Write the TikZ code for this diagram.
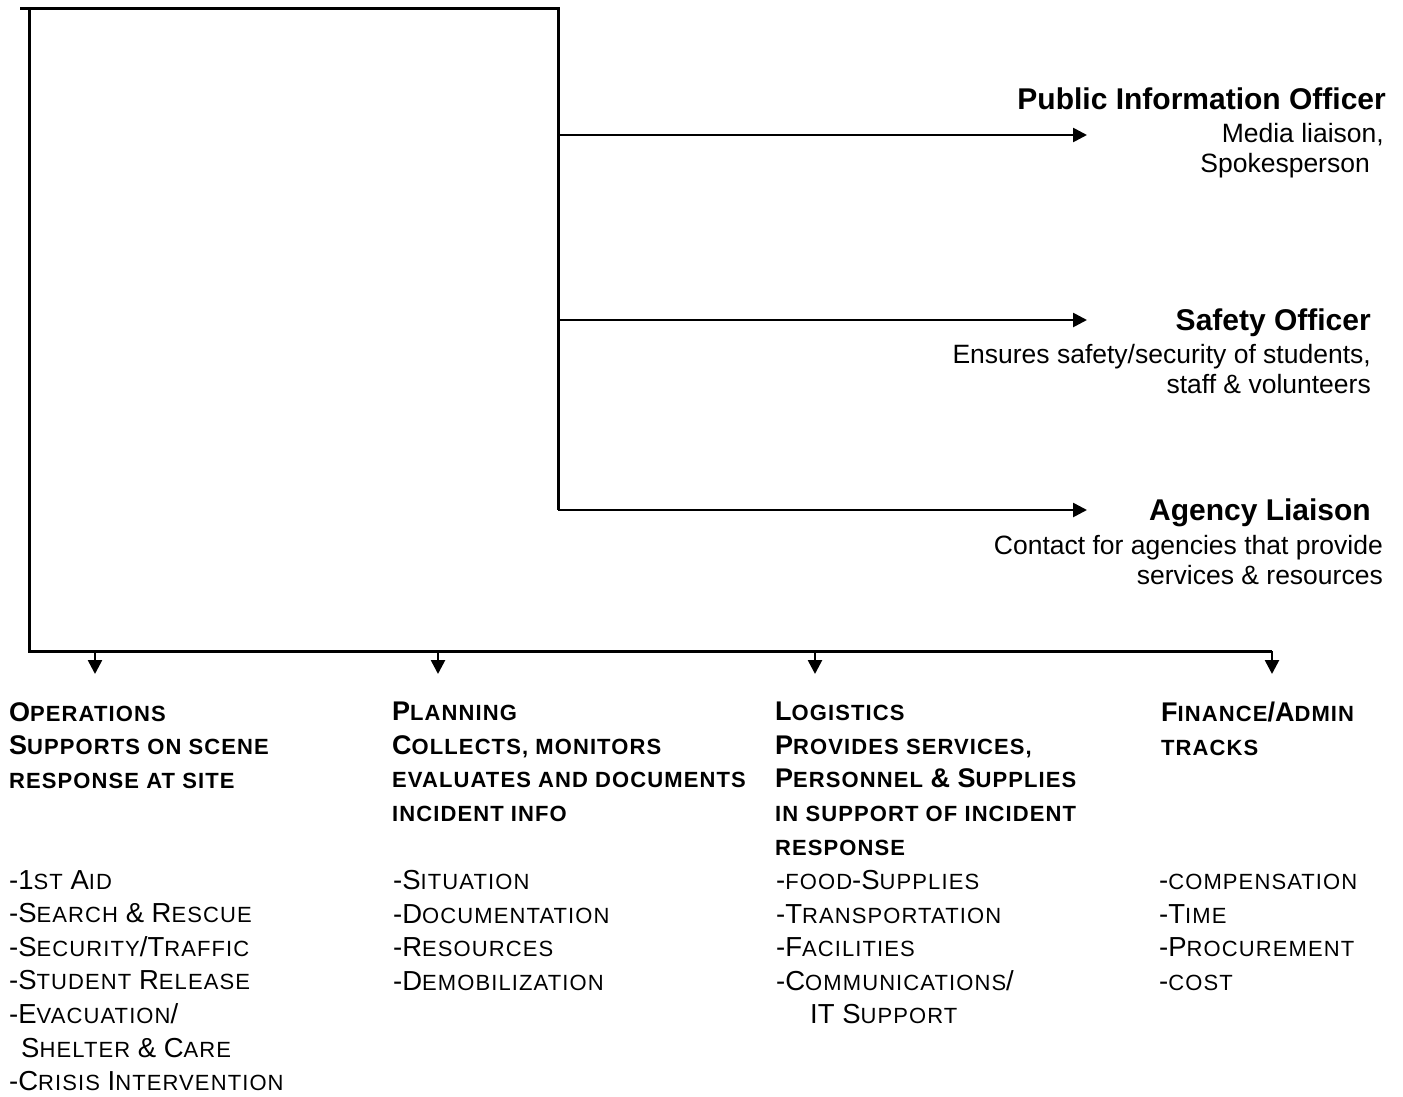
\documentclass[tikz,border=0pt]{standalone}
\usepackage{fontspec}
\setmainfont{Liberation Sans}
\usetikzlibrary{arrows.meta, positioning}

% faux small caps as in the source document
\newcommand{\sml}[1]{{\fontsize{22}{33.6}\selectfont\addfontfeature{LetterSpace=5}#1}}

\tikzset{
  head/.style={font=\fontsize{30}{32}\selectfont\bfseries, inner sep=0pt, align=right, anchor=north east},
  note/.style={font=\fontsize{26.5}{30}\selectfont, inner sep=0pt, align=right, anchor=north east},
  sect/.style={font=\fontsize{27}{33.6}\selectfont\bfseries, inner sep=0pt, align=left, anchor=north west},
  duty/.style={font=\fontsize{27.5}{33.6}\selectfont, inner sep=0pt, align=left, anchor=north west},
  frame/.style={line width=3pt},
  link/.style={line width=2.6pt, ->},
}

\begin{document}
\begin{tikzpicture}[x=1pt, y=-1pt, >={Triangle[length=14pt, width=14pt]}]
    \useasboundingbox (0,0) rectangle (1403,1097);

    % staff officers on the right
    \node[head] (pio) at (1386,88) {Public Information Officer};
    \node[note] (pioinfo) at (1384,123) {Media liaison,\\ Spokesperson\kern14pt};
    \node[head] (safety) at (1371,309) {Safety Officer};
    \node[note] (safetyinfo) at (1371,344) {Ensures safety/security of students,\\ staff \& volunteers};
    \node[head] (agency) at (1371,499) {Agency Liaison};
    \node[note] (agencyinfo) at (1383,535) {Contact for agencies that provide\\ services \& resources};

    % sections at the bottom
    \node[sect] (ops) at (9,702) {O\sml{PERATIONS}\\ S\sml{UPPORTS ON SCENE}\\ \sml{RESPONSE AT SITE}};
    \node[sect] (plan) at (392,702) {P\sml{LANNING}\\ C\sml{OLLECTS, MONITORS}\\ \sml{EVALUATES AND DOCUMENTS}\\ \sml{INCIDENT INFO}};
    \node[sect] (logi) at (775,702) {L\sml{OGISTICS}\\ P\sml{ROVIDES SERVICES,}\\ P\sml{ERSONNEL} \& S\sml{UPPLIES}\\ \sml{IN SUPPORT OF INCIDENT}\\ \sml{RESPONSE}};
    \node[sect] (fin) at (1161,702) {F\sml{INANCE}/A\sml{DMIN}\\ \sml{TRACKS}};

    \node[duty] (opslist) at (9,870) {-1\sml{ST} A\sml{ID}\\ -S\sml{EARCH} \& R\sml{ESCUE}\\ -S\sml{ECURITY}/T\sml{RAFFIC}\\ -S\sml{TUDENT} R\sml{ELEASE}\\ -E\sml{VACUATION}/\\ \hspace*{12pt}S\sml{HELTER} \& C\sml{ARE}\\ -C\sml{RISIS} I\sml{NTERVENTION}};
    \node[duty] (planlist) at (393,870) {-S\sml{ITUATION}\\ -D\sml{OCUMENTATION}\\ -R\sml{ESOURCES}\\ -D\sml{EMOBILIZATION}};
    \node[duty] (logilist) at (776,870) {-\sml{FOOD}-S\sml{UPPLIES}\\ -T\sml{RANSPORTATION}\\ -F\sml{ACILITIES}\\ -C\sml{OMMUNICATIONS}/\\ \hspace*{34pt}IT S\sml{UPPORT}};
    \node[duty] (finlist) at (1159,870) {\vphantom{C}-\sml{COMPENSATION}\\ -T\sml{IME}\\ -P\sml{ROCUREMENT}\\ -\sml{COST}};

    % corners and arrow tips
    \coordinate (tl) at (20,9);
    \coordinate (corner) at (29,9);
    \coordinate (tr) at (558,9);
    \coordinate (bl) at (29,651);
    \coordinate (pio tip) at (1087,135);
    \coordinate (safety tip) at (1087,320);
    \coordinate (agency tip) at (1087,510);
    \coordinate (ops tip) at (95,674);
    \coordinate (plan tip) at (438,674);
    \coordinate (logi tip) at (815,674);
    \coordinate (fin tip) at (1272,674);

    \draw[frame] (tl) -- (tr) -- (tr |- agency tip);
    \draw[frame] (corner) -- (bl) -- (fin tip |- bl);

    \draw[link] (tr |- pio tip) -- (pio tip);
    \draw[link] (tr |- safety tip) -- (safety tip);
    \draw[link] (tr |- agency tip) -- (agency tip);

    \draw[link] (ops tip |- bl) -- (ops tip);
    \draw[link] (plan tip |- bl) -- (plan tip);
    \draw[link] (logi tip |- bl) -- (logi tip);
    \draw[link] (fin tip |- bl) -- (fin tip);
\end{tikzpicture}
\end{document}
